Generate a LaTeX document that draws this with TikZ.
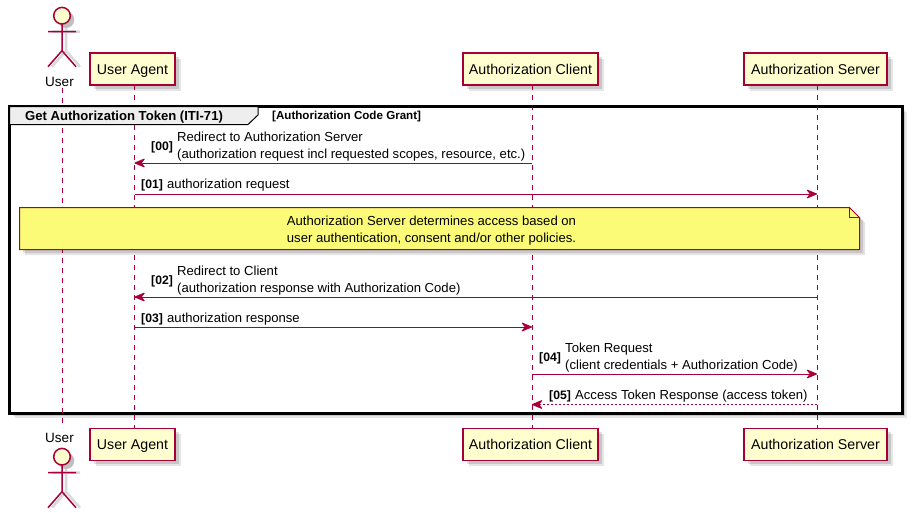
\documentclass[tikz,border=0pt]{standalone}
\usepackage{fontspec}
\setmainfont{Liberation Sans}
\usetikzlibrary{arrows.meta,shadows}
\definecolor{umlred}{HTML}{A80036}
\definecolor{umlbox}{HTML}{FEFECE}
\definecolor{umlnote}{HTML}{FBFB77}
\definecolor{umltab}{HTML}{EEEEEE}
\tikzset{
  sombra/.style={drop shadow={shadow xshift=5.5pt, shadow yshift=-5.5pt, fill=black, opacity=0.1}, drop shadow={shadow xshift=3.5pt, shadow yshift=-3.5pt, fill=black, opacity=0.13}},
  caja/.style={rectangle, draw=umlred, fill=umlbox, line width=1.5pt, minimum height=32pt, inner sep=0pt, text height=12pt, text depth=2pt, font=\fontsize{14.2}{17}\selectfont, sombra},
  vida/.style={draw=umlred, line width=1pt, dash pattern=on 5pt off 5pt},
  msg/.style={draw=umlred, line width=1pt, -{Stealth[length=12pt, width=10pt, inset=4pt, round]}},
  etiq/.style={font=\fontsize{13.1}{17}\selectfont, align=left, anchor=west, inner sep=0pt},
  num/.style={font=\fontsize{12.2}{15}\bfseries\selectfont, anchor=west, inner sep=0pt},
  actor/.pic={
    % sombra
    \draw[black!15, line width=2.5pt] (4,1) -- (4,35) (-10,16) -- (18,16) (4,35) -- (-10,51) (4,35) -- (18,51);
    \fill[black!25] (4,4) circle (8.3);
    % figura
    \draw[umlred, line width=1.5pt, fill=umlbox] (0,0) circle (8.3);
    \draw[umlred, line width=1.5pt] (0,8.3) -- (0,35) (-14,16) -- (14,16) (-14,51) -- (0,35) -- (14,51);
  }
}
\begin{document}
\begin{tikzpicture}[x=1pt, y=-1pt]
    \useasboundingbox (0,0) rectangle (913,512);
    % marco
    \node[rectangle, draw=black, fill=white, line width=2pt, minimum width=892pt, minimum height=306pt, inner sep=0pt, sombra] (marco) at (455.5,259.5) {};
    % participantes
    \coordinate (userTop) at (62,88);
    \coordinate (userBot) at (62,424);
    \node[caja, minimum width=85pt] (agentTop) at (132.5,69) {User Agent};
    \node[caja, minimum width=85pt] (agentBot) at (132.5,444.5) {User Agent};
    \node[caja, minimum width=135pt] (clientTop) at (530.5,69) {Authorization Client};
    \node[caja, minimum width=135pt] (clientBot) at (530.5,444.5) {Authorization Client};
    \node[caja, minimum width=143pt] (serverTop) at (815.5,69) {Authorization Server};
    \node[caja, minimum width=143pt] (serverBot) at (815.5,444.5) {Authorization Server};
    % lineas de vida
    \coordinate (agentA) at (134.5,85);
    \coordinate (agentB) at (134.5,428);
    \coordinate (clientA) at (532,85);
    \coordinate (clientB) at (532,428);
    \coordinate (serverA) at (817,85);
    \coordinate (serverB) at (817,428);
    \draw[vida] (userTop) -- (userBot);
    \draw[vida] (agentA) -- (agentB);
    \draw[vida] (clientA) -- (clientB);
    \draw[vida] (serverA) -- (serverB);
    % pestana
    \draw[black, fill=umltab, line width=1pt] (9.5,106.5) -- (258,106.5) -- (258,115) -- (248,124.5) -- (9.5,124.5) -- cycle;
    \draw[black, line width=2pt] (marco.north west) rectangle (marco.south east);
    \node[anchor=west, inner sep=0pt, font=\fontsize{13.1}{15}\bfseries\selectfont] (titulo) at (25,117.5) {Get Authorization Token (ITI-71)};
    \node[anchor=west, inner sep=0pt, font=\fontsize{11.6}{13}\bfseries\selectfont] (grant) at (272,116.5) {[Authorization Code Grant]};
    % user
    \path (0,0) pic (userUp) at (62,15.7) {actor};
    \node[inner sep=0pt, font=\fontsize{13.5}{16}\selectfont] (userLblTop) at (59.5,82) {User};
    \node[inner sep=0pt, font=\fontsize{13.5}{16}\selectfont] (userLblBot) at (59.5,438) {User};
    \path (0,0) pic (userDn) at (62,456.7) {actor};
    % nota
    \draw[draw=umlred, fill=umlnote, line width=1pt, sombra] (19.5,207.5) -- (849.5,207.5) -- (859.5,217.5) -- (859.5,249.5) -- (19.5,249.5) -- cycle;
    \draw[draw=umlred, line width=1pt] (849.5,207.5) -- (849.5,217.5) -- (859.5,217.5);
    \node[inner sep=0pt, align=center, font=\fontsize{13.1}{17}\selectfont] (notaTxt) at (431.5,230.5) {Authorization Server determines access based on\\user authentication, consent and/or other policies.};
    % mensajes
    \coordinate (c00) at (532,163);
    \coordinate (a00) at (134.5,163);
    \coordinate (a01) at (134.5,194);
    \coordinate (s01) at (817,194);
    \coordinate (s02) at (817,297);
    \coordinate (a02) at (134.5,297);
    \coordinate (a03) at (134.5,327);
    \coordinate (c03) at (532,327);
    \coordinate (c04) at (532,374);
    \coordinate (s04) at (817,374);
    \coordinate (s05) at (817,404.5);
    \coordinate (c05) at (532,404.5);
    \draw[msg] (c00) -- (a00);
    \draw[msg] (a01) -- (s01);
    \draw[msg] (s02) -- (a02);
    \draw[msg] (a03) -- (c03);
    \draw[msg] (c04) -- (s04);
    \draw[msg, dash pattern=on 2pt off 2pt] (s05) -- (c05);
    \node[num] (n00) at (151,147.5) {[00]};
    \node[etiq] (t00) at (177,147) {Redirect to Authorization Server\\(authorization request incl requested scopes, resource, etc.)};
    \node[num] (n01) at (141,185.5) {[01]};
    \node[etiq] (t01) at (167,185.5) {authorization request};
    \node[num] (n02) at (151,281.5) {[02]};
    \node[etiq] (t02) at (177,281) {Redirect to Client\\(authorization response with Authorization Code)};
    \node[num] (n03) at (141,319) {[03]};
    \node[etiq] (t03) at (167,319) {authorization response};
    \node[num] (n04) at (539,358.5) {[04]};
    \node[etiq] (t04) at (565,358) {Token Request\\(client credentials + Authorization Code)};
    \node[num] (n05) at (549,396.5) {[05]};
    \node[etiq] (t05) at (575,396.5) {Access Token Response (access token)};
\end{tikzpicture}
\end{document}
